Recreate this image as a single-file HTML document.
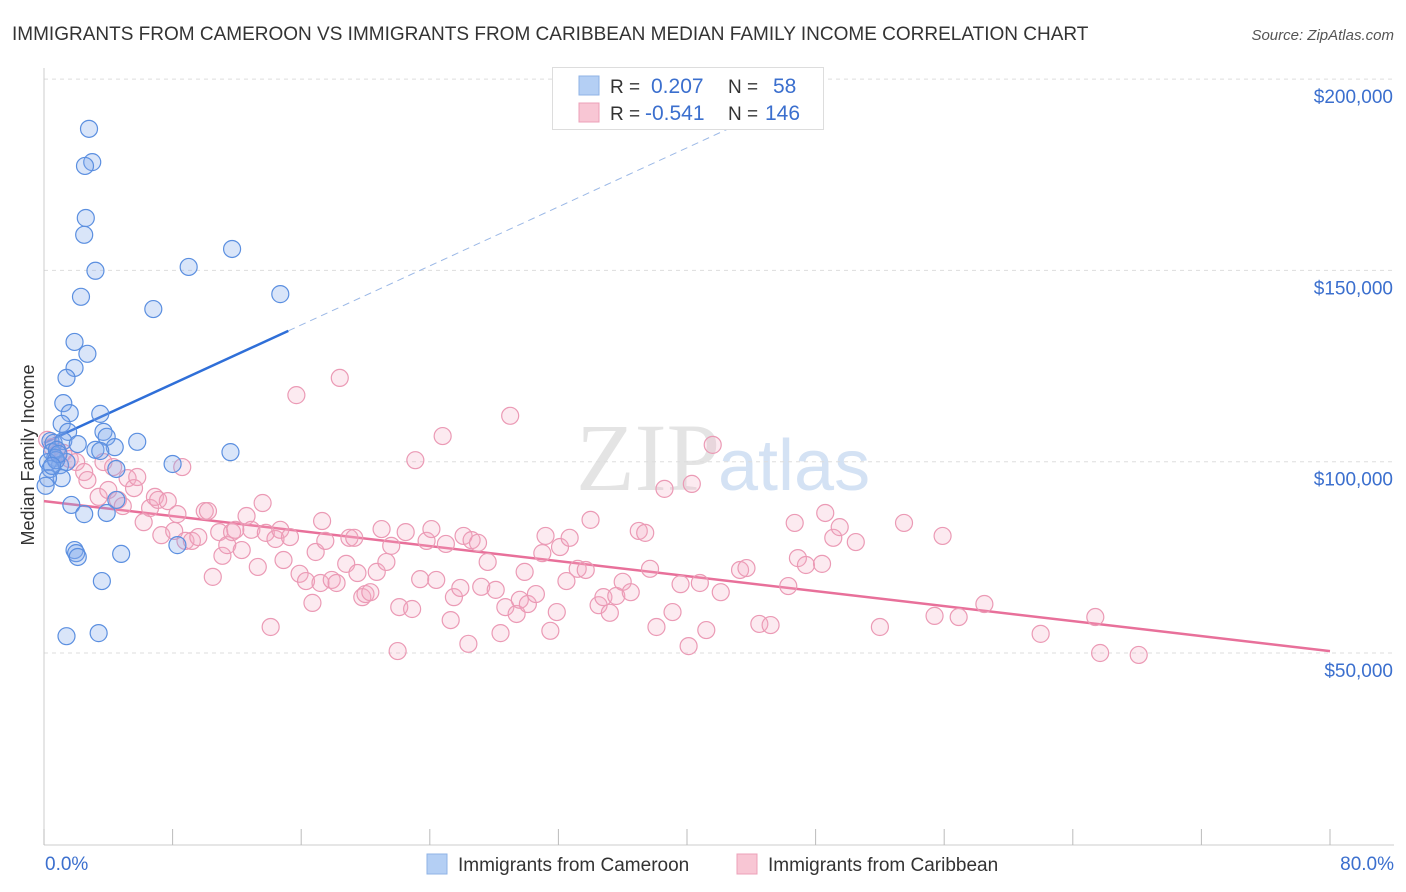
<!DOCTYPE html>
<html><head><meta charset="utf-8"><style>
body{margin:0;background:#fff;font-family:"Liberation Sans",sans-serif;}
#wrap{position:relative;width:1406px;height:892px;overflow:hidden;}
</style></head><body>
<div id="wrap">
<svg id="svg" width="1406" height="892" xmlns="http://www.w3.org/2000/svg">
<text x="12" y="40" font-size="19" fill="#333">IMMIGRANTS FROM CAMEROON VS IMMIGRANTS FROM CARIBBEAN MEDIAN FAMILY INCOME CORRELATION CHART</text>
<text x="1394" y="40" font-size="15" fill="#555" font-style="italic" text-anchor="end">Source: ZipAtlas.com</text>
<text x="720" y="490" font-size="96" fill="#e4e4e4" font-family="Liberation Serif,serif" text-anchor="end">ZIP</text>
<text x="718" y="490" font-size="72" fill="#d4e2f4">atlas</text>
<text transform="translate(34,455) rotate(-90)" font-size="18" fill="#333" text-anchor="middle">Median Family Income</text>
<g id="grid"></g><g id="axes"></g><g id="lines"></g><g id="pts"></g>
<g>
<rect x="552.5" y="67.5" width="271" height="62" fill="#fff" stroke="#ddd"/>
<rect x="579" y="76" width="20" height="19" fill="#b4cff4" stroke="#8fb3e6"/>
<rect x="579" y="103" width="20" height="19" fill="#f8c6d4" stroke="#eca0b8"/>
<text x="610" y="93" font-size="19" fill="#333">R = </text><text x="651" y="93" font-size="21" fill="#3b6fce">0.207</text>
<text x="728" y="93" font-size="19" fill="#333">N = </text><text x="773" y="93" font-size="21" fill="#3b6fce">58</text>
<text x="610" y="120" font-size="19" fill="#333">R = </text><text x="645" y="120" font-size="21" fill="#3b6fce">-0.541</text>
<text x="728" y="120" font-size="19" fill="#333">N = </text><text x="765" y="120" font-size="21" fill="#3b6fce">146</text>
</g>
<g>
<rect x="427" y="854" width="20" height="20" fill="#b4cff4" stroke="#8fb3e6"/>
<text x="458" y="871" font-size="19" fill="#333">Immigrants from Cameroon</text>
<rect x="737" y="854" width="20" height="20" fill="#f8c6d4" stroke="#eca0b8"/>
<text x="768" y="871" font-size="19" fill="#333">Immigrants from Caribbean</text>
</g>
</svg>
</div>
<script>
const yTicks=[50000,100000,150000,200000];
const yTickLabels=["$50,000","$100,000","$150,000","$200,000"];
const xTickPcts=[0,8,16,24,32,40,48,56,64,72,80];
const xEndLabels=["0.0%","80.0%"];
const blueX=[2.8,3.0,2.55,2.6,2.5,11.7,3.2,9.0,14.7,2.3,6.8,1.9,2.7,1.9,1.4,1.2,1.6,3.5,1.1,1.5,3.7,3.9,0.4,0.6,1.2,2.1,5.8,3.2,4.4,11.6,3.5,0.5,0.8,0.7,1.0,0.25,8.0,1.4,4.5,0.4,1.1,0.25,4.5,1.7,3.9,2.5,0.1,8.3,1.9,2.0,2.1,4.8,3.6,1.4,3.4,0.75,0.9,0.5];
const blueY=[187000,178300,177300,163700,159300,155600,149900,150900,143800,143100,139900,131300,128200,124500,121900,115300,112700,112500,109900,107800,107800,106500,105400,104900,105400,104600,105200,103100,103800,102500,102800,102500,103100,101000,99100,99900,99400,99900,98100,98100,95700,95700,90000,88700,86600,86300,93700,78200,76900,76100,75100,75900,68800,54400,55200,100400,102000,98900];
const pinkX=[0.2,0.5,0.9,1.2,1.6,2.0,2.5,2.7,3.4,3.7,4.0,4.3,4.6,4.9,5.2,5.6,5.8,6.2,6.6,6.9,7.1,7.3,7.7,8.1,8.3,8.6,8.8,9.2,9.6,10.0,10.2,10.5,10.9,11.1,11.4,11.7,11.9,12.3,12.6,12.9,13.3,13.6,13.8,14.1,14.4,14.7,14.9,15.3,15.7,15.9,16.3,16.7,16.9,17.2,17.3,17.5,17.9,18.2,18.4,18.8,19.0,19.3,19.5,19.8,20.0,20.3,20.7,21.0,21.3,21.6,22.0,22.1,22.5,22.9,23.1,23.4,23.8,24.1,24.4,24.8,25.0,25.3,25.5,25.9,26.1,26.4,26.6,27.0,27.2,27.6,28.1,28.4,28.7,29.0,29.4,29.6,29.9,30.1,30.6,31.0,31.2,31.5,31.9,32.1,32.5,32.7,33.2,33.7,34.0,34.5,34.8,35.2,35.6,36.0,36.5,37.0,37.4,37.7,38.1,38.6,39.1,39.6,40.1,40.3,40.8,41.2,41.6,42.1,43.3,43.7,44.5,45.2,46.3,46.7,46.9,47.4,48.4,48.6,49.1,49.5,50.5,52.0,53.5,55.4,55.9,56.9,58.5,62.0,65.4,65.7,68.1];
const pinkY=[105.7,103.8,102.5,102.3,100.7,99.9,97.3,95.2,90.8,99.9,92.6,98.6,90.0,88.4,95.7,93.1,96.0,84.2,87.9,90.8,90.0,80.8,89.7,81.9,86.3,98.6,79.3,79.3,80.3,87.1,87.1,69.9,81.6,75.4,78.2,81.6,82.2,76.9,85.8,82.2,72.5,89.2,81.4,56.8,79.8,82.2,74.3,80.3,117.4,70.7,68.8,63.1,76.4,68.3,84.5,79.3,69.1,68.3,121.9,73.3,80.1,80.1,70.9,64.6,65.4,65.9,71.2,82.4,73.8,78.0,50.5,62.0,81.6,61.5,100.4,69.3,79.3,82.4,69.1,106.7,78.5,58.6,64.6,67.0,80.6,52.4,79.5,78.8,67.3,73.8,66.5,55.2,62.0,112.0,60.2,63.9,71.2,62.8,65.4,76.1,80.6,55.8,60.7,77.7,68.8,80.1,72.0,71.7,84.8,62.5,64.6,60.5,64.9,68.6,65.9,81.9,81.4,72.0,56.8,92.9,60.7,68.0,51.8,94.2,68.3,56.0,104.4,65.9,71.7,72.2,57.6,57.3,67.5,84.0,74.8,73.0,73.3,86.6,80.1,82.9,79.0,56.8,84.0,59.7,80.6,59.4,62.8,55.0,59.4,50.0,49.5].map(v=>v*1000);
const blueTrend=[[0,104900],[15.2,134200],[43.5,188800]];
const pinkTrend=[[0,89700],[80,50500]];

const NS="http://www.w3.org/2000/svg";
const xs=p=>44+p*1286/80;
const ys=v=>653-(v-50000)*191.3/50000;
function mk(tag,attrs,parent){const e=document.createElementNS(NS,tag);for(const k in attrs)e.setAttribute(k,attrs[k]);document.getElementById(parent).appendChild(e);return e;}
yTicks.forEach((t,i)=>{
  const l=mk('line',{x1:44,x2:1394,y1:ys(t),y2:ys(t),stroke:'#ddd','stroke-dasharray':'4,4'},'grid');
  
  
  const tx=mk('text',{x:1393,y:ys(t)+24,'font-size':19,fill:'#3b6fce','text-anchor':'end'},'axes');
  tx.textContent=yTickLabels[i];
  
  
});
const ax=mk('line',{x1:44,x2:44,y1:68,y2:845,stroke:'#ccc'},'axes');


const bx=mk('line',{x1:44,x2:1394,y1:845,y2:845,stroke:'#ccc'},'axes');


xTickPcts.forEach(p=>{
  const t=mk('line',{x1:xs(p),x2:xs(p),y1:829,y2:845,stroke:'#bbb'},'axes');
  
  
});
[[0,'start',45],[80,'end',1394]].forEach((a,i)=>{
  const t=mk('text',{x:a[2],y:870,'font-size':19,fill:'#3b6fce','text-anchor':a[1]},'axes');
  t.textContent=xEndLabels[i];
  
  
});
const bs=mk('line',{x1:xs(blueTrend[0][0]),y1:ys(blueTrend[0][1]),x2:xs(blueTrend[1][0]),y2:ys(blueTrend[1][1]),stroke:'#2f6fd8','stroke-width':2.5},'lines');


const bd=mk('line',{x1:xs(blueTrend[1][0]),y1:ys(blueTrend[1][1]),x2:xs(blueTrend[2][0]),y2:ys(blueTrend[2][1]),stroke:'#9bb8e6','stroke-width':1,'stroke-dasharray':'7,5'},'lines');


const pl=mk('line',{x1:xs(pinkTrend[0][0]),y1:ys(pinkTrend[0][1]),x2:xs(pinkTrend[1][0]),y2:ys(pinkTrend[1][1]),stroke:'#e8709a','stroke-width':2.5},'lines');


pinkX.forEach((x,i)=>{
  const c=mk('circle',{cx:xs(x),cy:ys(pinkY[i]),r:8.5,fill:'rgba(244,170,195,0.25)',stroke:'#eb9ab5','stroke-width':1.2},'pts');
  
  
});
blueX.forEach((x,i)=>{
  const c=mk('circle',{cx:xs(x),cy:ys(blueY[i]),r:8.5,fill:'rgba(130,170,235,0.3)',stroke:'#5b8fe0','stroke-width':1.2},'pts');
  
  
});
</script>
</body></html>
